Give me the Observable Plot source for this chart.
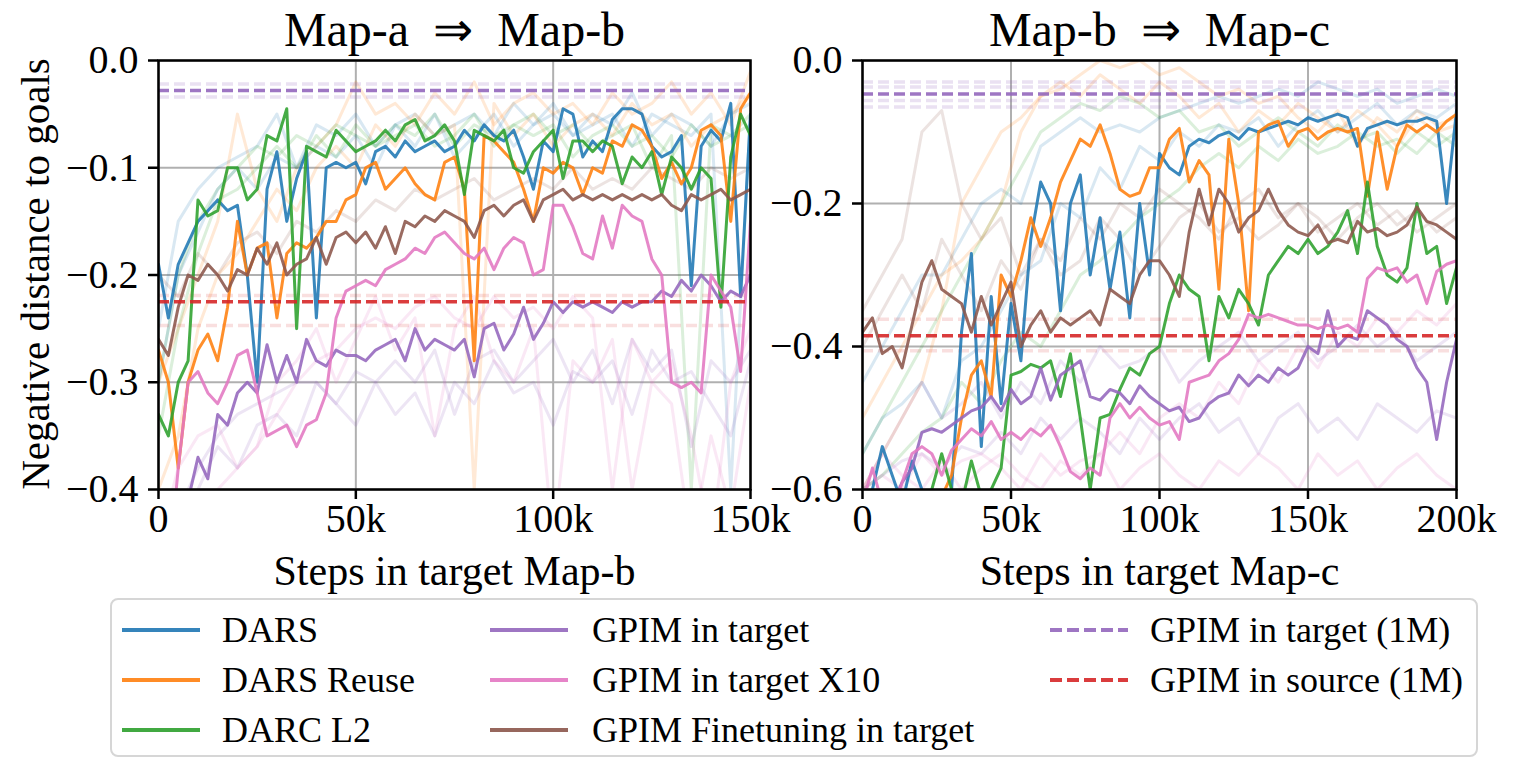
<!DOCTYPE html>
<html><head><meta charset="utf-8">
<script src="https://cdn.jsdelivr.net/npm/d3@7"></script>
<script src="https://cdn.jsdelivr.net/npm/@observablehq/plot@0.6"></script>
<style>
body{margin:0;background:#fff;font-family:'Liberation Serif','Times New Roman',serif;}
#root{position:relative;width:1519px;height:760px;overflow:hidden;background:#fff;}
.panel{position:absolute;top:0;}
#p1{left:0;width:800px;} #p2{left:700px;width:819px;}
#legend{position:absolute;left:110px;top:598px;width:1368px;height:159px;border:2px solid #d6d6d6;border-radius:8px;box-sizing:border-box;background:#fff;}
.item{position:absolute;height:40px;font-size:36px;line-height:40px;white-space:nowrap;color:#000;}
.item svg{position:absolute;top:15px;}
.item span{position:absolute;top:0;}
</style></head><body>
<div id="root"><div id="p1" class="panel"></div><div id="p2" class="panel"></div><div id="legend"></div></div>
<script>
// ---------- categories / styles ----------
const methods = ["DARS", "DARS Reuse", "DARC L2", "GPIM in target", "GPIM in target X10", "GPIM Finetuning in target"];
const methodColors = ["#1f77b4", "#ff7f0e", "#2ca02c", "#9467bd", "#e377c2", "#8c564b"];
const refLabels = ["GPIM in target (1M)", "GPIM in source (1M)"];
const refColors = ["#9467bd", "#d62728"];

// ---------- panel A: Map-a => Map-b (0..150k) ----------
const xMaxA = 150000;
const xTicksA = [0, 50000, 100000, 150000];
const yTicksA = [-0.4, -0.3, -0.2, -0.1, 0.0];
const dars_A = [-0.19,-0.24,-0.19,-0.17,-0.15,-0.14,-0.13,-0.14,-0.135,-0.2,-0.3,-0.12,-0.085,-0.15,-0.11,-0.085,-0.24,-0.1,-0.095,-0.1,-0.095,-0.115,-0.085,-0.08,-0.09,-0.075,-0.085,-0.08,-0.075,-0.085,-0.08,-0.065,-0.075,-0.06,-0.07,-0.075,-0.065,-0.09,-0.12,-0.075,-0.085,-0.045,-0.05,-0.09,-0.075,-0.085,-0.055,-0.045,-0.045,-0.05,-0.08,-0.09,-0.085,-0.07,-0.21,-0.08,-0.065,-0.075,-0.04,-0.22,-0.05];
const reuse_A = [-0.27,-0.3,-0.38,-0.3,-0.27,-0.255,-0.28,-0.23,-0.15,-0.2,-0.175,-0.17,-0.24,-0.18,-0.17,-0.175,-0.165,-0.15,-0.15,-0.13,-0.125,-0.1,-0.095,-0.12,-0.11,-0.1,-0.115,-0.125,-0.13,-0.095,-0.09,-0.12,-0.28,-0.07,-0.075,-0.085,-0.095,-0.12,-0.15,-0.1,-0.105,-0.095,-0.1,-0.125,-0.1,-0.105,-0.075,-0.08,-0.06,-0.065,-0.08,-0.11,-0.095,-0.115,-0.1,-0.065,-0.06,-0.07,-0.15,-0.045,-0.03];
const darc_A = [-0.33,-0.35,-0.3,-0.28,-0.13,-0.145,-0.14,-0.1,-0.1,-0.13,-0.12,-0.07,-0.075,-0.045,-0.25,-0.08,-0.085,-0.09,-0.065,-0.075,-0.085,-0.08,-0.075,-0.065,-0.075,-0.06,-0.055,-0.075,-0.07,-0.06,-0.075,-0.125,-0.065,-0.07,-0.075,-0.065,-0.1,-0.105,-0.085,-0.075,-0.065,-0.11,-0.075,-0.075,-0.085,-0.075,-0.08,-0.115,-0.09,-0.1,-0.085,-0.125,-0.09,-0.1,-0.12,-0.1,-0.11,-0.23,-0.09,-0.05,-0.07];
const gpim_A = [-0.45,-0.46,-0.44,-0.41,-0.37,-0.39,-0.33,-0.34,-0.31,-0.3,-0.31,-0.265,-0.3,-0.275,-0.3,-0.26,-0.28,-0.285,-0.27,-0.275,-0.275,-0.28,-0.27,-0.265,-0.26,-0.28,-0.25,-0.27,-0.26,-0.265,-0.27,-0.26,-0.295,-0.25,-0.245,-0.27,-0.255,-0.23,-0.26,-0.245,-0.225,-0.235,-0.225,-0.23,-0.225,-0.23,-0.235,-0.225,-0.23,-0.225,-0.225,-0.215,-0.22,-0.205,-0.215,-0.2,-0.21,-0.225,-0.215,-0.22,-0.2];
const x10_A = [-0.5,-0.48,-0.38,-0.3,-0.29,-0.31,-0.32,-0.3,-0.275,-0.27,-0.31,-0.35,-0.345,-0.34,-0.36,-0.34,-0.335,-0.31,-0.24,-0.215,-0.21,-0.205,-0.21,-0.195,-0.19,-0.185,-0.175,-0.18,-0.165,-0.16,-0.17,-0.18,-0.185,-0.175,-0.195,-0.175,-0.165,-0.17,-0.2,-0.195,-0.135,-0.135,-0.155,-0.18,-0.185,-0.145,-0.175,-0.135,-0.145,-0.15,-0.185,-0.2,-0.3,-0.305,-0.3,-0.31,-0.2,-0.215,-0.23,-0.29,-0.15];
const fine_A = [-0.26,-0.275,-0.23,-0.2,-0.205,-0.19,-0.2,-0.215,-0.195,-0.2,-0.175,-0.19,-0.17,-0.2,-0.19,-0.185,-0.165,-0.19,-0.165,-0.16,-0.17,-0.16,-0.175,-0.155,-0.18,-0.15,-0.155,-0.145,-0.15,-0.14,-0.145,-0.15,-0.165,-0.14,-0.135,-0.145,-0.135,-0.13,-0.15,-0.13,-0.125,-0.12,-0.13,-0.125,-0.13,-0.125,-0.13,-0.125,-0.13,-0.125,-0.13,-0.125,-0.135,-0.14,-0.125,-0.13,-0.125,-0.12,-0.13,-0.125,-0.12];
// faint individual runs
const faintDars_A = [-0.25,-0.15,-0.12,-0.1,-0.09,-0.08,-0.05,-0.1,-0.06,-0.07,-0.05,-0.08,-0.06,-0.05,-0.07,-0.06,-0.05,-0.07,-0.04,-0.06,-0.05,-0.07,-0.06,-0.05,-0.08,-0.05,-0.06,-0.07,-0.05,-0.4,-0.05];
const faintReuse_A = [-0.3,-0.25,-0.2,-0.15,-0.05,-0.12,-0.15,-0.1,-0.08,-0.06,-0.02,-0.05,-0.04,-0.06,-0.03,-0.05,-0.02,-0.06,-0.04,-0.03,-0.05,-0.04,-0.06,-0.03,-0.05,-0.04,-0.02,-0.05,-0.03,-0.06,-0.01];
const faintDarc_A = [-0.3,-0.2,-0.15,-0.12,-0.1,-0.08,-0.09,-0.07,-0.08,-0.06,-0.07,-0.08,-0.06,-0.07,-0.05,-0.08,-0.06,-0.07,-0.06,-0.05,-0.07,-0.06,-0.08,-0.07,-0.06,-0.1,-0.07,-0.4,-0.06,-0.07,-0.05];
const faintGpim_A = [-0.45,-0.42,-0.38,-0.35,-0.33,-0.32,-0.31,-0.3,-0.3,-0.32,-0.29,-0.3,-0.28,-0.3,-0.27,-0.33,-0.28,-0.27,-0.3,-0.28,-0.26,-0.3,-0.27,-0.32,-0.26,-0.29,-0.27,-0.36,-0.28,-0.3,-0.27];
const faintX10_A = [-0.45,-0.38,-0.35,-0.34,-0.38,-0.36,-0.3,-0.28,-0.25,-0.3,-0.26,-0.22,-0.27,-0.24,-0.35,-0.25,-0.22,-0.28,-0.3,-0.25,-0.45,-0.28,-0.3,-0.26,-0.4,-0.3,-0.32,-0.45,-0.35,-0.42,-0.3];
const faintFine_A = [-0.2,-0.22,-0.18,-0.2,-0.17,-0.16,-0.18,-0.15,-0.16,-0.14,-0.15,-0.13,-0.14,-0.12,-0.13,-0.12,-0.11,-0.13,-0.12,-0.11,-0.12,-0.1,-0.12,-0.11,-0.12,-0.1,-0.11,-0.12,-0.1,-0.11,-0.1];
const faint2Dars_A = [-0.3,-0.2,-0.16,-0.12,-0.1,-0.12,-0.09,-0.1,-0.08,-0.09,-0.07,-0.1,-0.06,-0.08,-0.05,-0.09,-0.07,-0.05,-0.08,-0.06,-0.04,-0.07,-0.05,-0.06,-0.03,-0.07,-0.05,-0.06,-0.08,-0.05,-0.04];
const faint2Reuse_A = [-0.4,-0.35,-0.25,-0.2,-0.18,-0.15,-0.12,-0.14,-0.1,-0.08,-0.1,-0.06,-0.08,-0.05,-0.07,-0.06,-0.4,-0.04,-0.07,-0.05,-0.08,-0.06,-0.05,-0.07,-0.04,-0.06,-0.05,-0.08,-0.06,-0.05,-0.03];
const faint2Darc_A = [-0.35,-0.25,-0.18,-0.13,-0.12,-0.1,-0.08,-0.1,-0.07,-0.09,-0.06,-0.08,-0.07,-0.06,-0.08,-0.07,-0.05,-0.08,-0.06,-0.07,-0.06,-0.09,-0.07,-0.06,-0.08,-0.07,-0.09,-0.06,-0.08,-0.07,-0.06];
const faint2Gpim_A = [-0.5,-0.45,-0.4,-0.36,-0.38,-0.34,-0.33,-0.35,-0.3,-0.32,-0.34,-0.3,-0.33,-0.31,-0.35,-0.3,-0.32,-0.28,-0.31,-0.3,-0.34,-0.29,-0.3,-0.28,-0.33,-0.27,-0.3,-0.29,-0.32,-0.35,-0.28];
const faint2X10_A = [-0.5,-0.45,-0.42,-0.4,-0.38,-0.36,-0.33,-0.3,-0.28,-0.27,-0.25,-0.24,-0.25,-0.23,-0.22,-0.24,-0.25,-0.22,-0.24,-0.23,-0.25,-0.22,-0.24,-0.4,-0.26,-0.3,-0.28,-0.35,-0.45,-0.3,-0.25];
const refTarget_A = -0.028, refSource_A = -0.225;
const refTargetFaint_A = [-0.022, -0.034];
const refSourceFaint_A = [-0.219, -0.247];

// ---------- panel B: Map-b => Map-c (0..200k) ----------
const xMaxB = 200000;
const xTicksB = [0, 50000, 100000, 150000, 200000];
const yTicksB = [-0.6, -0.4, -0.2, 0.0];
const dars_B = [-0.62,-0.6,-0.54,-0.58,-0.62,-0.56,-0.6,-0.64,-0.64,-0.6,-0.38,-0.27,-0.54,-0.33,-0.48,-0.34,-0.42,-0.25,-0.17,-0.2,-0.35,-0.2,-0.16,-0.3,-0.22,-0.32,-0.24,-0.36,-0.2,-0.3,-0.13,-0.15,-0.16,-0.12,-0.11,-0.115,-0.105,-0.1,-0.11,-0.095,-0.1,-0.095,-0.09,-0.085,-0.09,-0.08,-0.085,-0.08,-0.075,-0.08,-0.12,-0.095,-0.09,-0.085,-0.09,-0.085,-0.085,-0.08,-0.085,-0.2,-0.07];
const reuse_B = [-0.65,-0.65,-0.63,-0.66,-0.64,-0.62,-0.65,-0.63,-0.61,-0.58,-0.5,-0.44,-0.42,-0.47,-0.3,-0.33,-0.28,-0.22,-0.26,-0.22,-0.17,-0.14,-0.11,-0.12,-0.09,-0.13,-0.18,-0.19,-0.185,-0.15,-0.15,-0.11,-0.095,-0.17,-0.14,-0.16,-0.32,-0.11,-0.2,-0.35,-0.1,-0.09,-0.085,-0.12,-0.1,-0.095,-0.11,-0.1,-0.095,-0.1,-0.095,-0.19,-0.1,-0.18,-0.12,-0.09,-0.1,-0.09,-0.1,-0.085,-0.075];
const darc_B = [-0.65,-0.66,-0.64,-0.63,-0.65,-0.62,-0.63,-0.6,-0.55,-0.6,-0.62,-0.56,-0.61,-0.6,-0.57,-0.44,-0.435,-0.425,-0.43,-0.42,-0.47,-0.41,-0.5,-0.6,-0.5,-0.495,-0.46,-0.43,-0.44,-0.41,-0.4,-0.34,-0.3,-0.32,-0.33,-0.42,-0.33,-0.36,-0.32,-0.34,-0.37,-0.3,-0.28,-0.26,-0.27,-0.25,-0.27,-0.26,-0.24,-0.21,-0.27,-0.17,-0.26,-0.3,-0.31,-0.29,-0.2,-0.27,-0.26,-0.34,-0.29];
const gpim_B = [-0.68,-0.66,-0.64,-0.62,-0.59,-0.57,-0.52,-0.515,-0.52,-0.51,-0.5,-0.49,-0.485,-0.47,-0.49,-0.46,-0.48,-0.47,-0.43,-0.475,-0.44,-0.43,-0.42,-0.47,-0.475,-0.46,-0.465,-0.48,-0.455,-0.47,-0.48,-0.49,-0.485,-0.505,-0.5,-0.48,-0.47,-0.465,-0.44,-0.455,-0.44,-0.45,-0.43,-0.44,-0.43,-0.4,-0.41,-0.35,-0.4,-0.385,-0.39,-0.35,-0.36,-0.37,-0.39,-0.4,-0.43,-0.45,-0.53,-0.45,-0.39];
const x10_B = [-0.62,-0.57,-0.62,-0.64,-0.59,-0.55,-0.54,-0.55,-0.58,-0.545,-0.53,-0.515,-0.525,-0.505,-0.53,-0.52,-0.53,-0.515,-0.525,-0.51,-0.54,-0.575,-0.585,-0.57,-0.58,-0.5,-0.48,-0.5,-0.485,-0.5,-0.51,-0.505,-0.53,-0.45,-0.445,-0.44,-0.42,-0.41,-0.39,-0.355,-0.36,-0.355,-0.36,-0.365,-0.37,-0.37,-0.375,-0.37,-0.375,-0.37,-0.38,-0.305,-0.29,-0.295,-0.29,-0.31,-0.3,-0.34,-0.295,-0.285,-0.28];
const fine_B = [-0.38,-0.36,-0.41,-0.4,-0.43,-0.37,-0.31,-0.28,-0.32,-0.33,-0.34,-0.38,-0.33,-0.37,-0.34,-0.31,-0.4,-0.37,-0.35,-0.38,-0.36,-0.37,-0.36,-0.35,-0.37,-0.32,-0.33,-0.34,-0.3,-0.28,-0.28,-0.3,-0.33,-0.24,-0.18,-0.23,-0.18,-0.2,-0.24,-0.22,-0.21,-0.18,-0.21,-0.23,-0.24,-0.245,-0.23,-0.255,-0.25,-0.255,-0.225,-0.24,-0.235,-0.245,-0.24,-0.23,-0.205,-0.225,-0.23,-0.24,-0.25];
const faintDars_B = [-0.45,-0.4,-0.35,-0.3,-0.3,-0.25,-0.2,-0.18,-0.2,-0.12,-0.1,-0.08,-0.1,-0.09,-0.1,-0.08,-0.07,-0.06,-0.05,-0.06,-0.05,-0.04,-0.05,-0.03,-0.04,-0.05,-0.04,-0.06,-0.05,-0.04,-0.05];
const faintReuse_B = [-0.6,-0.55,-0.5,-0.45,-0.35,-0.2,-0.15,-0.1,-0.08,-0.05,-0.04,-0.02,0.0,-0.01,0.0,-0.02,-0.01,-0.03,-0.05,-0.04,-0.06,-0.05,-0.08,-0.1,-0.07,-0.12,-0.08,-0.1,-0.07,-0.09,-0.08];
const faintDarc_B = [-0.55,-0.5,-0.45,-0.4,-0.35,-0.3,-0.25,-0.2,-0.15,-0.1,-0.08,-0.06,-0.07,-0.05,-0.06,-0.08,-0.07,-0.1,-0.09,-0.12,-0.1,-0.08,-0.1,-0.12,-0.09,-0.11,-0.1,-0.13,-0.1,-0.12,-0.1];
const faintGpim_B = [-0.6,-0.58,-0.56,-0.55,-0.57,-0.54,-0.55,-0.52,-0.55,-0.5,-0.53,-0.5,-0.52,-0.55,-0.5,-0.53,-0.5,-0.48,-0.52,-0.5,-0.55,-0.5,-0.48,-0.52,-0.5,-0.53,-0.48,-0.5,-0.52,-0.49,-0.5];
const faintX10_B = [-0.6,-0.58,-0.6,-0.55,-0.58,-0.56,-0.55,-0.57,-0.6,-0.55,-0.58,-0.56,-0.55,-0.52,-0.55,-0.5,-0.48,-0.5,-0.45,-0.48,-0.42,-0.45,-0.4,-0.43,-0.38,-0.4,-0.36,-0.38,-0.35,-0.37,-0.34];
const faintFine_B = [-0.35,-0.3,-0.25,-0.1,-0.07,-0.2,-0.25,-0.22,-0.3,-0.25,-0.28,-0.22,-0.25,-0.2,-0.22,-0.18,-0.2,-0.22,-0.25,-0.2,-0.18,-0.22,-0.2,-0.24,-0.22,-0.2,-0.23,-0.21,-0.24,-0.22,-0.2];
const faint2Dars_B = [-0.55,-0.5,-0.48,-0.45,-0.5,-0.42,-0.4,-0.35,-0.3,-0.28,-0.2,-0.22,-0.15,-0.18,-0.12,-0.14,-0.1,-0.12,-0.09,-0.1,-0.08,-0.12,-0.09,-0.07,-0.1,-0.08,-0.06,-0.09,-0.07,-0.08,-0.06];
const faint2Reuse_B = [-0.5,-0.45,-0.4,-0.35,-0.3,-0.28,-0.25,-0.2,-0.1,-0.05,-0.03,-0.05,-0.02,-0.04,-0.06,-0.03,-0.05,-0.08,-0.06,-0.1,-0.07,-0.09,-0.06,-0.08,-0.1,-0.07,-0.09,-0.12,-0.08,-0.1,-0.09];
const faint2Darc_B = [-0.6,-0.58,-0.55,-0.52,-0.5,-0.45,-0.48,-0.42,-0.38,-0.4,-0.35,-0.3,-0.28,-0.25,-0.22,-0.2,-0.18,-0.15,-0.13,-0.15,-0.12,-0.14,-0.11,-0.13,-0.12,-0.1,-0.12,-0.11,-0.13,-0.1,-0.12];
const faint2Gpim_B = [-0.6,-0.55,-0.5,-0.45,-0.5,-0.48,-0.45,-0.5,-0.45,-0.48,-0.42,-0.45,-0.4,-0.43,-0.42,-0.4,-0.45,-0.42,-0.4,-0.38,-0.42,-0.4,-0.38,-0.42,-0.4,-0.37,-0.4,-0.38,-0.42,-0.4,-0.38];
const faint2X10_B = [-0.6,-0.55,-0.58,-0.6,-0.56,-0.6,-0.57,-0.55,-0.58,-0.6,-0.56,-0.58,-0.55,-0.6,-0.57,-0.55,-0.58,-0.6,-0.56,-0.58,-0.55,-0.57,-0.6,-0.55,-0.58,-0.56,-0.6,-0.57,-0.55,-0.58,-0.6];
const faint2Fine_B = [-0.4,-0.35,-0.3,-0.35,-0.25,-0.3,-0.35,-0.28,-0.32,-0.25,-0.3,-0.28,-0.22,-0.25,-0.3,-0.26,-0.22,-0.2,-0.24,-0.22,-0.25,-0.23,-0.2,-0.22,-0.25,-0.22,-0.2,-0.23,-0.21,-0.24,-0.22];
const refTarget_B = -0.047, refSource_B = -0.385;
const refTargetFaint_B = [-0.030, -0.037, -0.056, -0.065];
const refSourceFaint_B = [-0.362, -0.406];

// ---------- helpers ----------
function rowsFrom(runs, xMax) {
  // runs: [methodIndex, values]
  return runs.flatMap(([k, vals], r) => vals.map((v, i) => ({
    step: i * xMax / (vals.length - 1), value: v, series: methods[k], run: r
  })));
}
const fmtK = d => d === 0 ? "0" : (d / 1000) + "k";
const FONT = "'Liberation Serif','Times New Roman',serif";

function panel(cfg) {
  const main = rowsFrom(cfg.main.map((v, k) => [k, v]), cfg.xMax);
  const faint = rowsFrom(cfg.faint, cfg.xMax);
  const marks = [
    Plot.gridX(cfg.xTicks, {stroke: "#b0b0b0", strokeOpacity: 1, strokeWidth: 2}),
    Plot.gridY(cfg.yTicks, {stroke: "#b0b0b0", strokeOpacity: 1, strokeWidth: 2}),
    Plot.line(faint, {x: "step", y: "value", z: "run", stroke: "series", strokeWidth: 3, strokeOpacity: 0.17, clip: true}),
    Plot.ruleY(cfg.refTargetFaint, {stroke: refColors[0], strokeOpacity: 0.2, strokeWidth: 3.5, strokeDasharray: "11,5", clip: true}),
    Plot.ruleY(cfg.refSourceFaint, {stroke: refColors[1], strokeOpacity: 0.15, strokeWidth: 3.5, strokeDasharray: "11,5", clip: true}),
    Plot.line(main, {x: "step", y: "value", z: "series", stroke: "series", strokeWidth: 3, strokeOpacity: 0.88, clip: true}),
    Plot.ruleY([cfg.refTarget], {stroke: refColors[0], strokeWidth: 3.5, strokeOpacity: 0.9, strokeDasharray: "11,5"}),
    Plot.ruleY([cfg.refSource], {stroke: refColors[1], strokeWidth: 3.5, strokeOpacity: 0.9, strokeDasharray: "11,5"}),
    Plot.frame({stroke: "black", strokeWidth: 2.5}),
    Plot.axisX(cfg.xTicks, {tickFormat: fmtK, tickSize: 10, tickPadding: 4, strokeWidth: 2.5, label: null, fontSize: 40}),
    Plot.axisY(cfg.yTicks, {tickFormat: d3.format(".1f"), tickSize: 10, tickPadding: 10, strokeWidth: 2.5, label: null, fontSize: 40}),
    Plot.text([cfg.title], {text: d => d, frameAnchor: "top", dy: -30, fontSize: 48, lineAnchor: "middle", textAnchor: "middle"}),
    Plot.text([cfg.xLabel], {text: d => d, frameAnchor: "bottom", dy: 82, fontSize: 42, lineAnchor: "middle", textAnchor: "middle"})
  ];
  if (cfg.yLabel) marks.push(Plot.text([cfg.yLabel], {text: d => d, frameAnchor: "left", dx: -123, dy: -1, rotate: -90, fontSize: 41, lineAnchor: "middle", textAnchor: "middle"}));
  return Plot.plot({
    width: cfg.width, height: 600,
    marginLeft: cfg.ml, marginRight: cfg.mr, marginTop: 60, marginBottom: 111,
    style: {fontFamily: FONT, fontSize: "40px", color: "black", background: "transparent", overflow: "visible", maxWidth: "none"},
    x: {domain: [0, cfg.xMax]},
    y: {domain: [cfg.yTicks[0], 0]},
    color: {domain: methods, range: methodColors},
    marks
  });
}

document.getElementById("p1").appendChild(panel({
  title: "Map-a \u00A0\u21D2\u00A0 Map-b", xLabel: "Steps in target Map-b", yLabel: "Negative distance to goals",
  xMax: xMaxA, xTicks: xTicksA, yTicks: yTicksA,
  main: [dars_A, reuse_A, darc_A, gpim_A, x10_A, fine_A],
  faint: [[0, faintDars_A], [1, faintReuse_A], [2, faintDarc_A], [3, faintGpim_A], [4, faintX10_A], [5, faintFine_A],
          [0, faint2Dars_A], [1, faint2Reuse_A], [2, faint2Darc_A], [3, faint2Gpim_A], [4, faint2X10_A]],
  refTarget: refTarget_A, refSource: refSource_A, refTargetFaint: refTargetFaint_A, refSourceFaint: refSourceFaint_A,
  width: 800, ml: 158, mr: 50
}));
document.getElementById("p2").appendChild(panel({
  title: "Map-b \u00A0\u21D2\u00A0 Map-c", xLabel: "Steps in target Map-c",
  xMax: xMaxB, xTicks: xTicksB, yTicks: yTicksB,
  main: [dars_B, reuse_B, darc_B, gpim_B, x10_B, fine_B],
  faint: [[0, faintDars_B], [1, faintReuse_B], [2, faintDarc_B], [3, faintGpim_B], [4, faintX10_B], [5, faintFine_B],
          [0, faint2Dars_B], [1, faint2Reuse_B], [2, faint2Darc_B], [3, faint2Gpim_B], [4, faint2X10_B], [5, faint2Fine_B]],
  refTarget: refTarget_B, refSource: refSource_B, refTargetFaint: refTargetFaint_B, refSourceFaint: refSourceFaint_B,
  width: 819, ml: 162, mr: 63
}));

// ---------- legend ----------
const legend = document.getElementById("legend");
const colX = [[10, 110], [378, 480], [938, 1038]];
const rowY = [10, 60, 110];
function addItem(col, row, label, color, dashed) {
  const d = document.createElement("div");
  d.className = "item";
  d.style.left = colX[col][0] + "px";
  d.style.top = rowY[row] + "px";
  d.innerHTML = `<svg width="78" height="10"><line x1="0" x2="78" y1="5" y2="5" stroke="${color}" stroke-width="4" stroke-opacity="0.9" ${dashed ? 'stroke-dasharray="12,5"' : ''}/></svg><span style="left:${colX[col][1] - colX[col][0]}px">${label}</span>`;
  legend.appendChild(d);
}
methods.forEach((m, i) => addItem(Math.floor(i / 3), i % 3, m, methodColors[i], false));
refLabels.forEach((m, i) => addItem(2, i, m, refColors[i], true));
</script>
</body></html>
